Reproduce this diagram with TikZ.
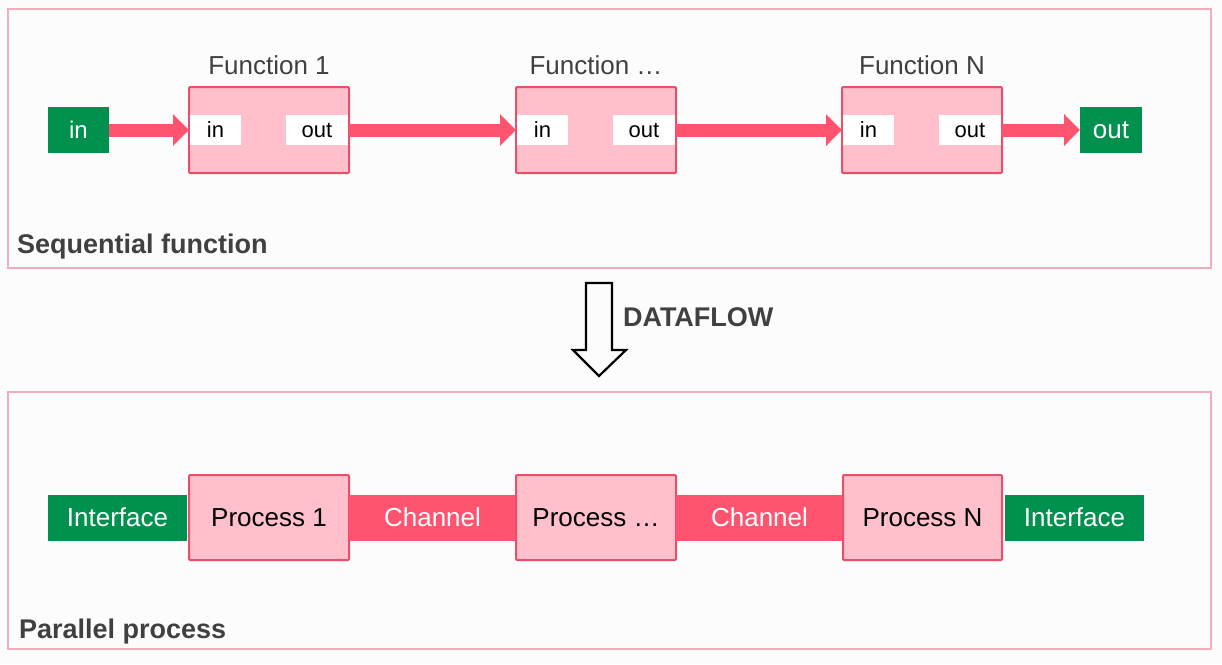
\documentclass[tikz,border=0pt]{standalone}
\usepackage{fontspec}
\setmainfont{Liberation Sans}
\usetikzlibrary{positioning, arrows.meta}
\definecolor{chanred}{RGB}{255,84,112}
\definecolor{boxpink}{RGB}{255,192,203}
\definecolor{boxline}{RGB}{232,80,106}
\definecolor{ifgreen}{RGB}{0,145,79}
\definecolor{framepink}{RGB}{245,172,186}
\definecolor{labelgray}{RGB}{64,64,64}
\definecolor{bgwhite}{RGB}{252,252,252}

\begin{document}
\begin{tikzpicture}[x=1pt, y=-1pt,
			>={Triangle[width=31pt,length=16pt]},   %arrow tips for the flow
			every node/.style={font=\fontsize{26}{30}\selectfont, inner sep=0pt, outer sep=0pt},
			frame/.style={draw=framepink, line width=2pt},
			func/.style={draw=boxline, fill=boxpink, line width=2pt, rounded corners=1pt, minimum width=160pt, minimum height=86pt},
			proc/.style={func, minimum height=85pt, text=black},
			port/.style={fill=white, minimum height=30pt, text=black, font=\fontsize{22}{26}\selectfont},
			green/.style={fill=ifgreen, text=white, minimum height=46pt},
			chan/.style={fill=chanred, text=white, minimum width=167pt, minimum height=46pt},
			title/.style={text=labelgray},
			section/.style={text=labelgray, font=\bfseries\fontsize{27}{31}\selectfont, anchor=base west},
			flow/.style={draw=chanred, line width=13pt}]
			%background
			\fill[bgwhite] (0,0) rectangle (1222,664);
			% frames
			\draw[frame] (8,9) rectangle (1211,268);
			\draw[frame] (8,392) rectangle (1211,649);
			\node[section] (seq) at (17,253) {Sequential function};
			\node[section] (par) at (19,638) {Parallel process};
			% sequential functions
			\node[green, minimum width=61pt, font=\fontsize{24}{28}\selectfont] (gin) at (78.5,130) {in};
			\node[func] (f1) at (269,130) {};
			\node[func, right=167pt of f1] (f2) {};
			\node[func, right=166pt of f2] (f3) {};
			\node[green, minimum width=62pt, right=78pt of f3] (gout) {out};
			\foreach \f/\t in {f1/Function 1, f2/Function \dots, f3/Function N} {
				\node[title, above=12pt of \f] (\f t) {\t};
				\node[port, minimum width=51pt, anchor=west] (\f in) at ([xshift=1pt]\f.west) {in};
				\node[port, minimum width=62pt, anchor=east] (\f out) at ([xshift=-1pt]\f.east) {out};
			}
			% flow arrows
			\draw[flow, ->] (gin) -- (f1);
			\draw[flow, ->] (f1) -- (f2);
			\draw[flow, ->] (f2) -- (f3);
			\draw[flow, ->] (f3) -- (gout);
			% dataflow arrow
			\draw[line width=2.2pt, fill=bgwhite, line join=miter] (586,283) -- (612,283) -- (612,350) -- (626,350) -- (599,376) -- (573,350) -- (586,350) -- cycle;
			\node[text=labelgray, font=\bfseries\fontsize{27}{31}\selectfont, anchor=west] (df) at (623,317.5) {DATAFLOW};
			% parallel processes
			\node[proc] (p1) at (269,517.5) {Process 1};
			\node[chan, right=0pt of p1] (ch1) {Channel};
			\node[proc, right=0pt of ch1] (p2) {Process \dots};
			\node[chan, right=0pt of p2] (ch2) {Channel};
			\node[proc, minimum width=159pt, right=0pt of ch2] (p3) {Process N};
			\node[green, minimum width=139pt, left=2pt of p1] (ifl) {Interface};
			\node[green, minimum width=139pt, right=3pt of p3] (ifr) {Interface};
\end{tikzpicture}
\end{document}
